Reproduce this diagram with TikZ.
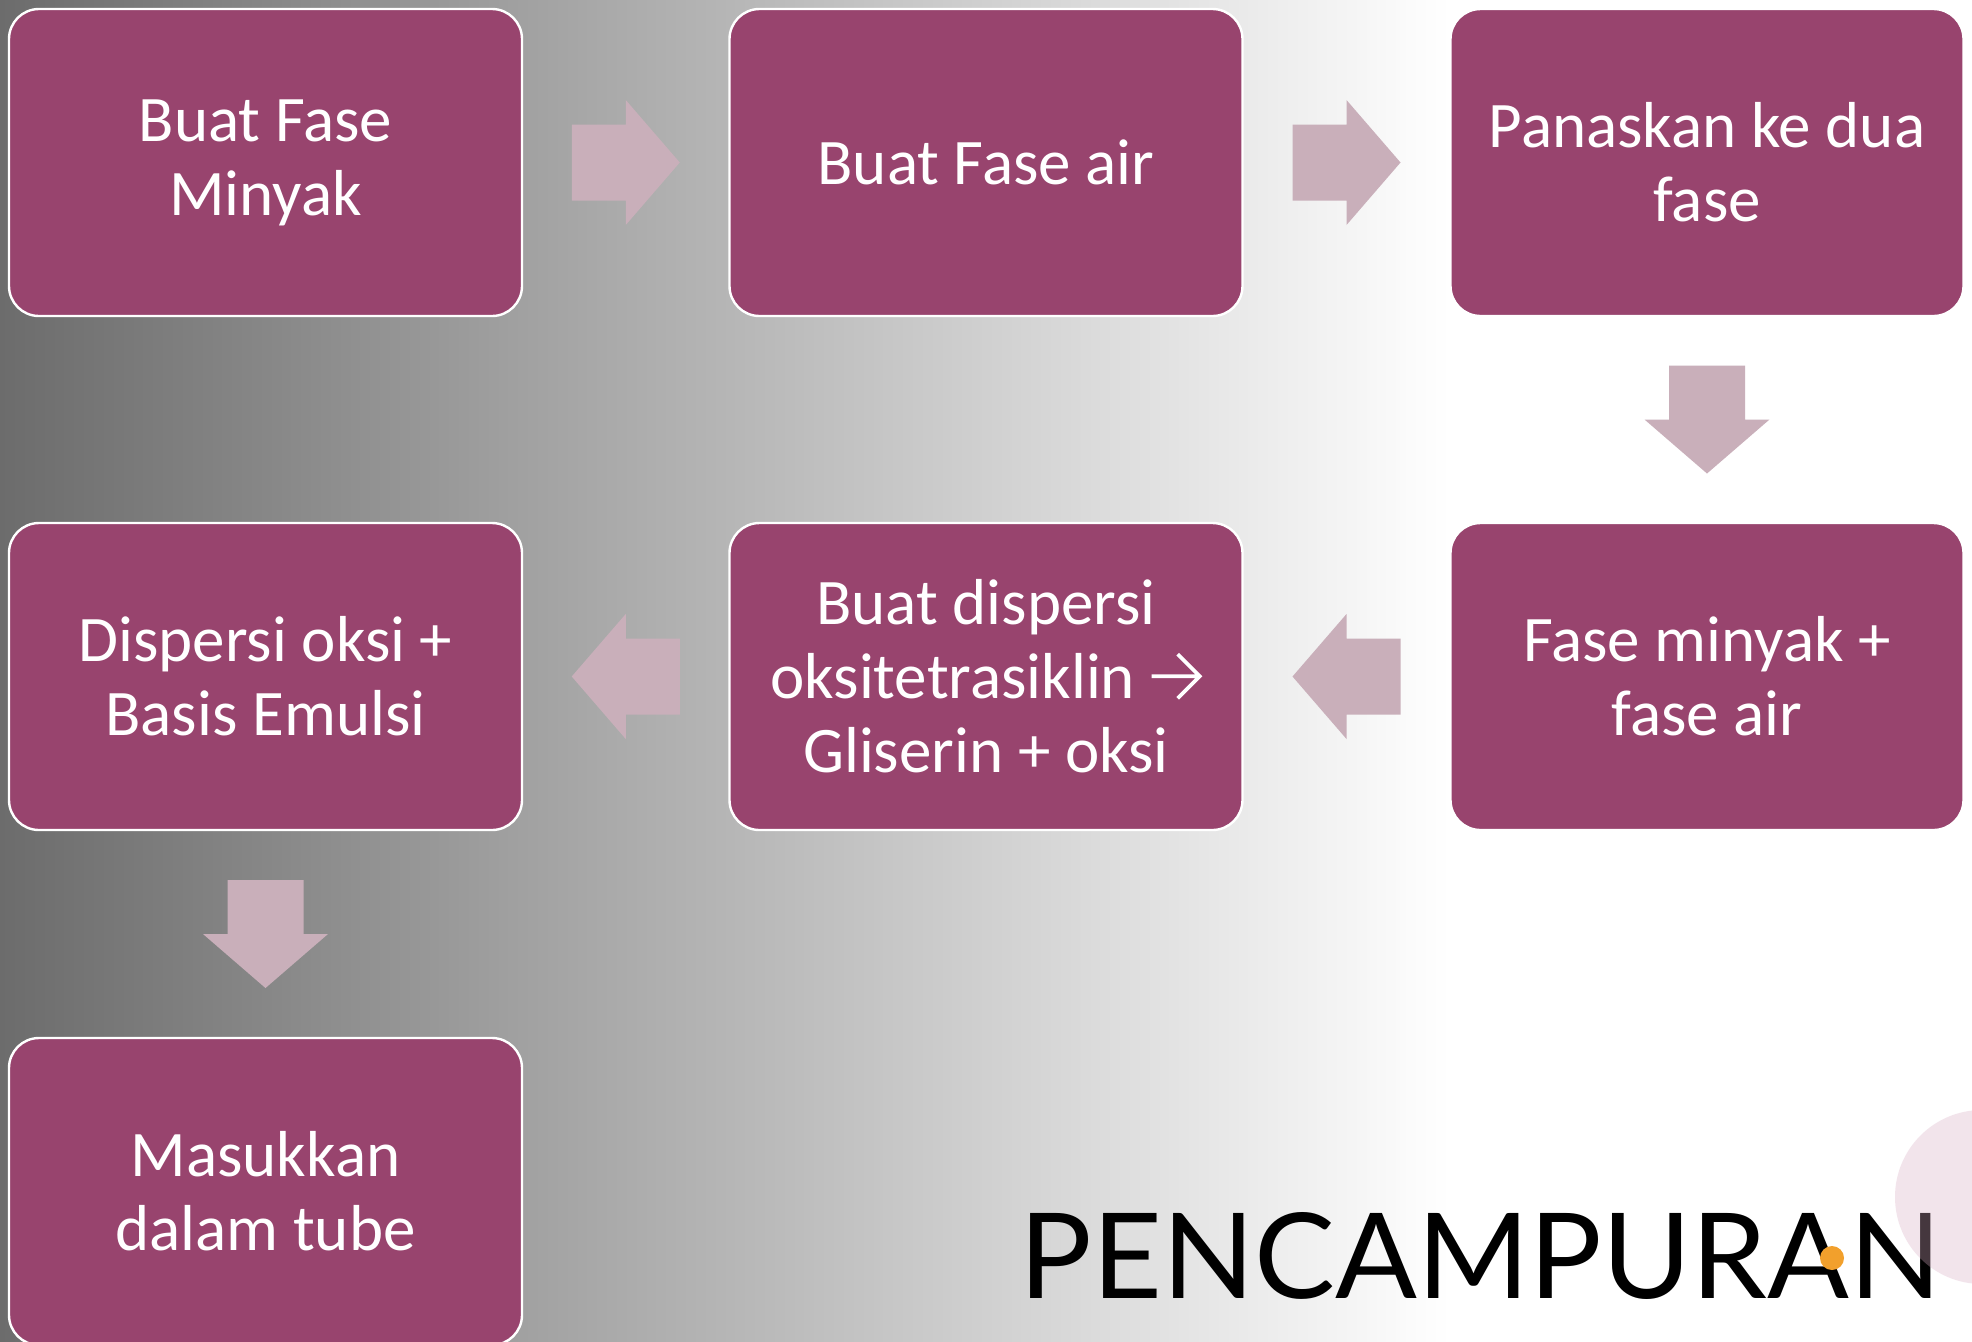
\documentclass[tikz,border=0pt]{standalone}
\usepackage{fontspec}
\usepackage{graphicx}
\setmainfont{Carlito}
\newfontfamily\titlefont{Lato}
\usetikzlibrary{calc}
\definecolor{boxc}{HTML}{98446E}
\definecolor{arrc}{HTML}{C9AFBA}
\definecolor{bgdark}{HTML}{6C6C6C}
\definecolor{dotc}{HTML}{F2A02C}
\definecolor{circc}{RGB}{217,173,195}
\newcommand\blkarrow[2]{%
  \fill[arrc, shift={(#1)}, rotate=#2] (-54,-38) -- (0,-38) -- (0,-62.5) -- (54,0) -- (0,62.5) -- (0,38) -- (-54,38) -- cycle;}
\newcommand\txtarrow{\tikz[baseline=-11.3pt, x=1pt, y=1pt, sharp corners]{\draw[white, line width=1.9pt, line join=miter, sharp corners] (0,0)--(24,0) (13,11)--(24,0)--(13,-11);}}
\begin{document}
\begin{tikzpicture}[x=0.5pt,y=-0.5pt,
  stepbox/.style={rectangle, rounded corners=15pt, fill=boxc, draw=white, line width=1.2pt,
    minimum width=256.5pt, minimum height=153.5pt, text=white, align=center,
    font=\fontsize{32.5}{37}\selectfont, inner sep=0pt}]
\useasboundingbox (0,0) rectangle (1972,1341);
\shade[left color=bgdark, right color=white] (0,0) rectangle (1450,1341);
\fill[white] (1450,0) rectangle (1972,1341);

\node[stepbox] (b1) at (265.5,162.5) {Buat Fase\\Minyak};
\node[stepbox] (b2) at (986,162.5) {Buat Fase air};
\node[stepbox] (b3) at (1707,162.5) {Panaskan ke dua\\fase};
\node[stepbox] (b6) at (1707,676.5) {Fase minyak +\\fase air};
\node[stepbox] (b5) at (986,676.5) {Buat dispersi\\oksitetrasiklin \txtarrow\\Gliserin + oksi};
\node[stepbox] (b4) at (265.5,676.5) {Dispersi oksi +\\Basis Emulsi};
\node[stepbox] (b7) at (265.5,1191.5) {Masukkan\\dalam tube};

\coordinate (m12) at ($(b1.east)!0.5!(b2.west)$);
\coordinate (m23) at ($(b2.east)!0.5!(b3.west)$);
\coordinate (m36) at ($(b3.south)!0.5!(b6.north)$);
\coordinate (m65) at ($(b6.west)!0.5!(b5.east)$);
\coordinate (m54) at ($(b5.west)!0.5!(b4.east)$);
\coordinate (m47) at ($(b4.south)!0.5!(b7.north)$);
\blkarrow{m12}{0}
\blkarrow{m23}{0}
\blkarrow{m36}{-90}
\blkarrow{m65}{180}
\blkarrow{m54}{180}
\blkarrow{m47}{-90}

\node[anchor=base west, inner sep=0pt] (title) at (1019,1298)
  {\resizebox{461pt}{43pt}{\titlefont PENCAMPURAN}};
\fill[dotc] (1832,1258) circle (12);
\fill[circc, opacity=0.32] (1982,1197) circle (87);
\end{tikzpicture}
\end{document}
